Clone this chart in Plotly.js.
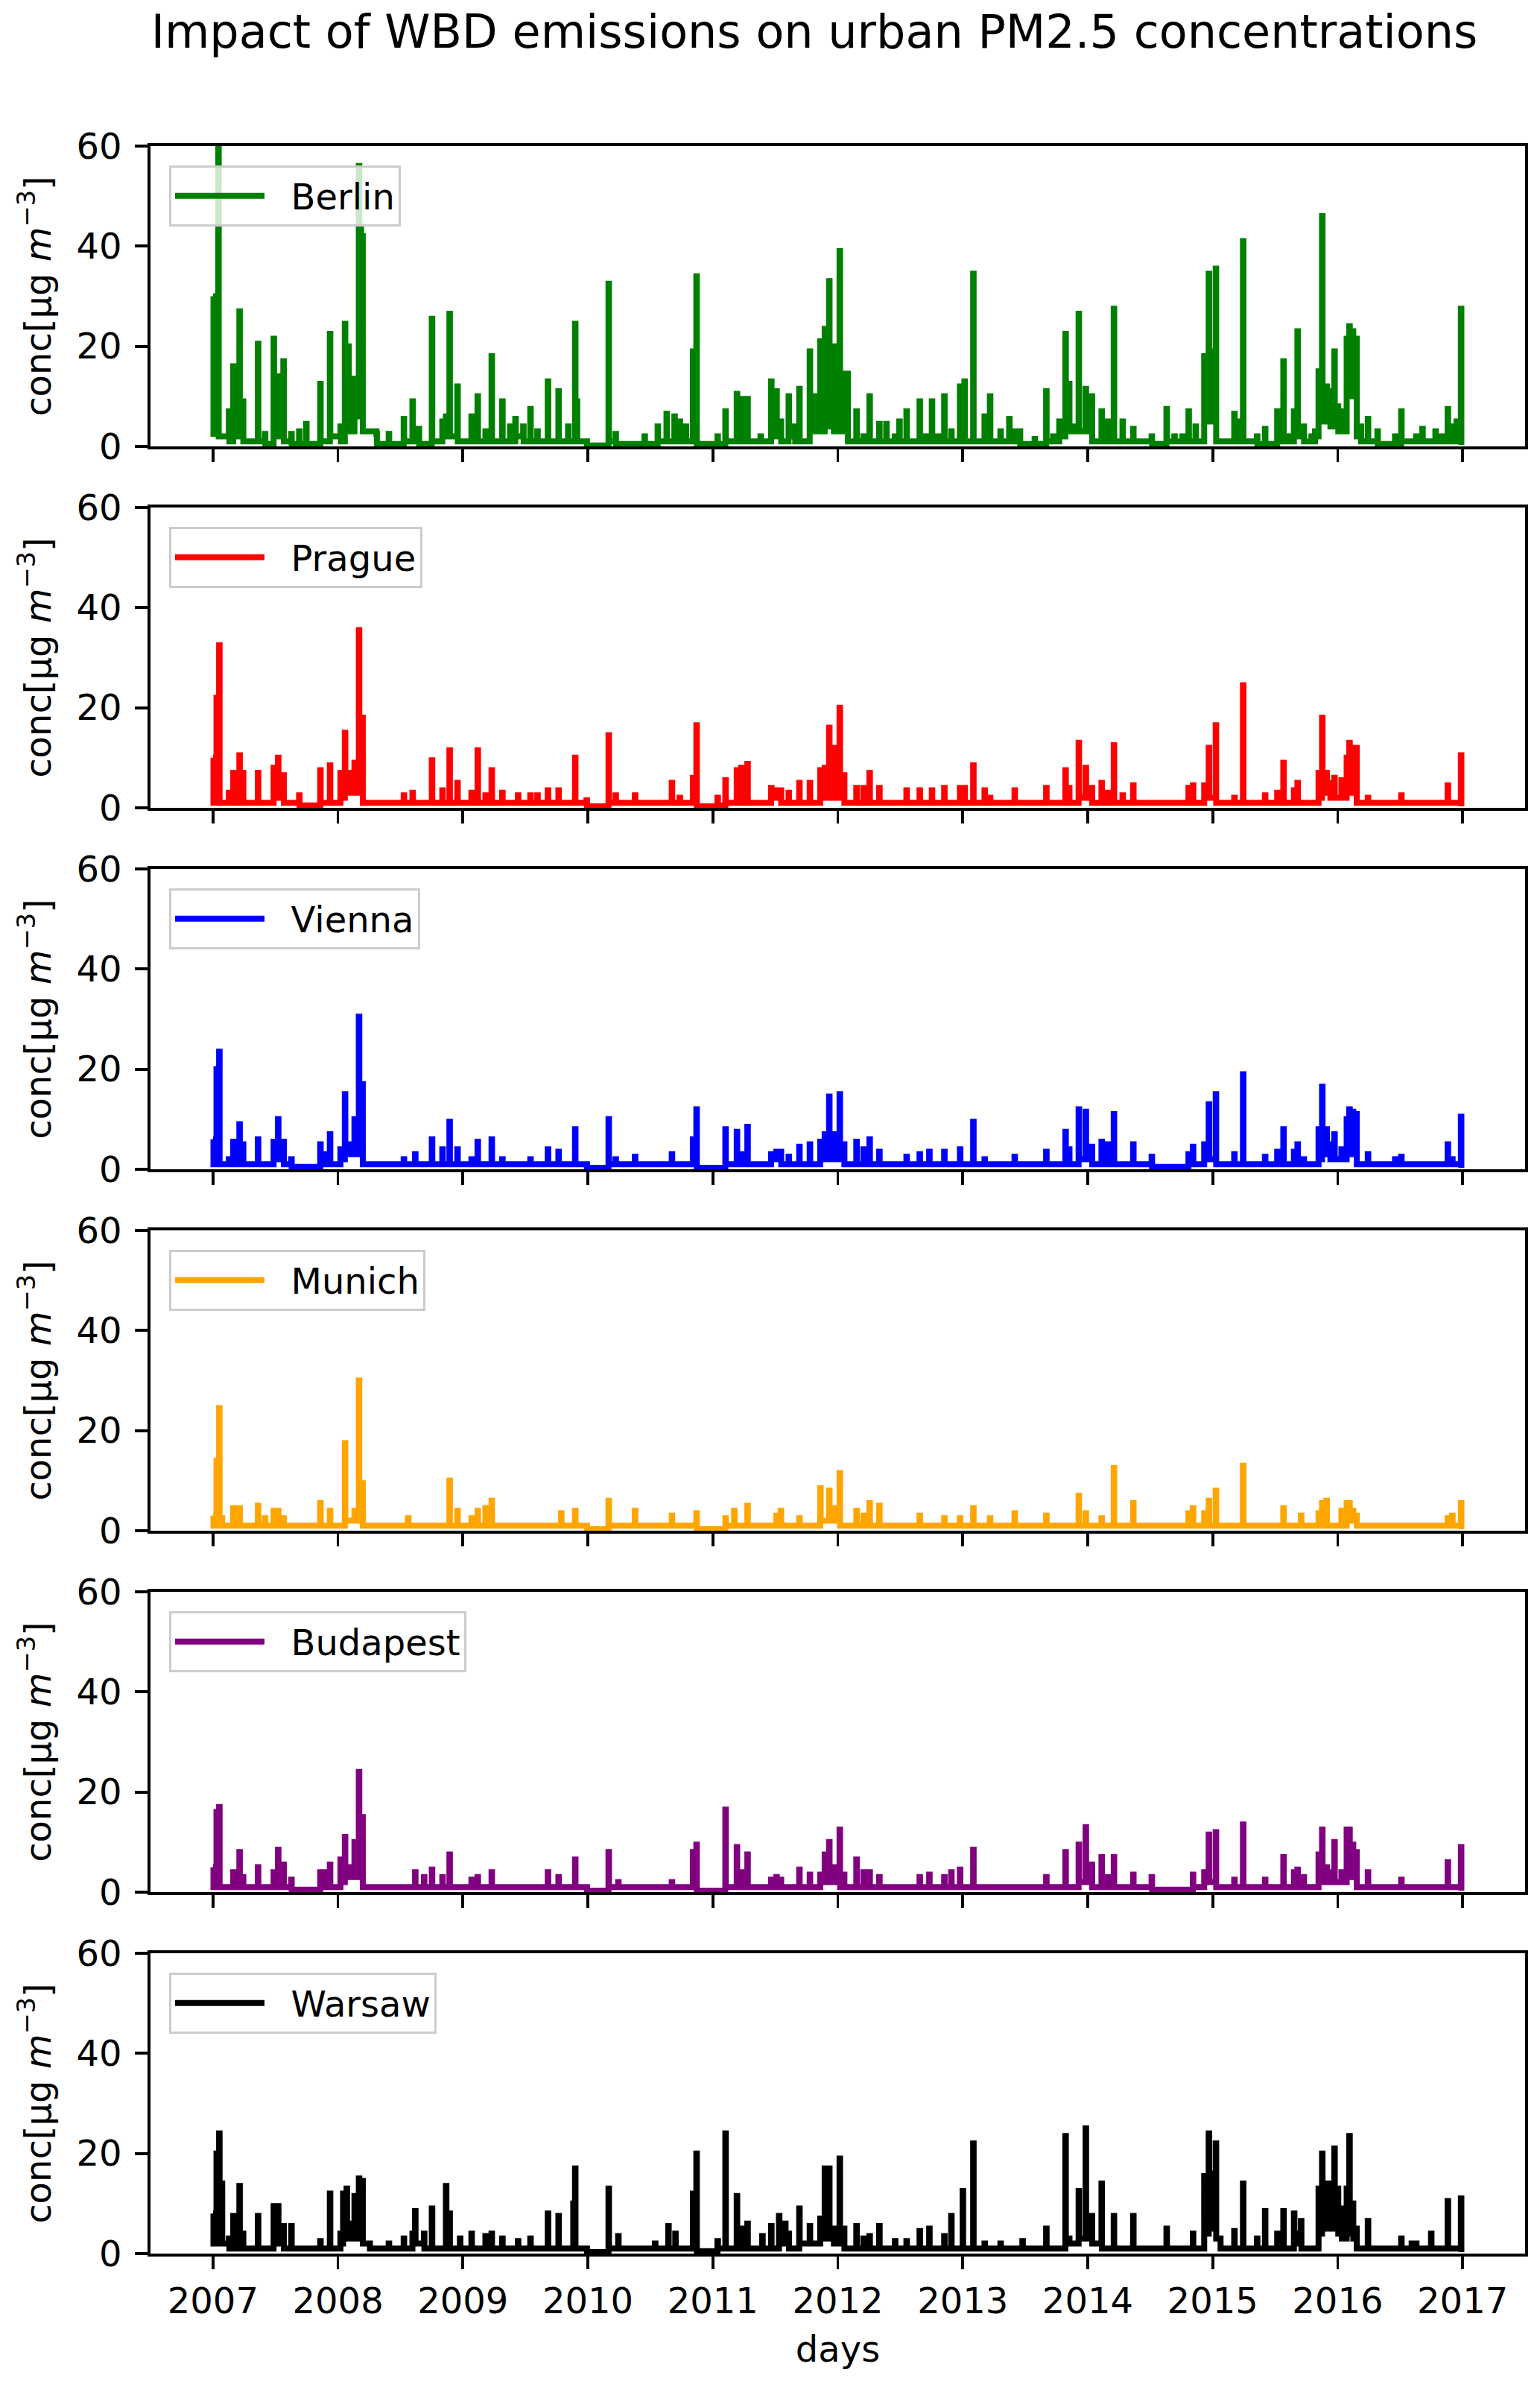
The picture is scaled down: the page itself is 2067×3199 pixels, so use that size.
<!DOCTYPE html>
<html>
<head>
<meta charset="utf-8">
<script src="https://cdn.plot.ly/plotly-3.0.1.min.js"></script>
<style>
  body { margin: 0; background: #fff; }
</style>
</head>
<body>
<div id="chart" style="width:2067px;height:3199px"></div>
<script>
// city names and line colours, top panel first
const cities = ['Berlin', 'Prague', 'Vienna', 'Munich', 'Budapest', 'Warsaw'];
const colors = ['green', 'red', 'blue', 'orange', 'purple', 'black'];
const yearTicks = [2007, 2008, 2009, 2010, 2011, 2012, 2013, 2014, 2015, 2016, 2017];
const concTicks = [0, 20, 40, 60];

// [decimal year, conc], each peak followed by the level it drops back to
const berlin = [
  [2007.000,30],[2007.004,2.5],[2007.042,62],[2007.046,2],[2007.127,7],[2007.131,1],
  [2007.162,16],[2007.166,3],[2007.176,15],[2007.180,2],[2007.211,27],[2007.215,2],
  [2007.239,9],[2007.243,1],[2007.359,20.5],[2007.363,1],[2007.415,2.5],[2007.419,0.5],
  [2007.485,21.5],[2007.489,3],[2007.520,14],[2007.524,2],[2007.563,17],[2007.567,1],
  [2007.626,2.5],[2007.630,0.5],[2007.689,3],[2007.693,0.5],[2007.745,4.5],[2007.749,0.5],
  [2007.858,12.5],[2007.862,1],[2007.935,22.5],[2007.939,2],[2008.020,4],[2008.024,1],
  [2008.055,24.5],[2008.059,3],[2008.083,20],[2008.087,3],[2008.132,13.5],[2008.136,6],
  [2008.167,56],[2008.171,42],[2008.181,44],[2008.185,40],[2008.195,42],[2008.199,3],
  [2008.308,2.5],[2008.312,0.5],[2008.406,2.5],[2008.410,0.5],[2008.526,5.5],[2008.530,1],
  [2008.596,9],[2008.600,1],[2008.646,3.5],[2008.650,0.5],[2008.751,25.5],[2008.755,1],
  [2008.835,5],[2008.839,2],[2008.864,6],[2008.868,3],[2008.892,26.5],[2008.896,2],
  [2008.955,12],[2008.959,1],[2009.068,6],[2009.072,1],[2009.117,10],[2009.121,1],
  [2009.180,3],[2009.184,1],[2009.229,18],[2009.233,1],[2009.314,9],[2009.318,1],
  [2009.377,4],[2009.381,1],[2009.419,5.5],[2009.423,2],[2009.482,4],[2009.486,1],
  [2009.539,7.5],[2009.543,1],[2009.595,3],[2009.599,1],[2009.679,13],[2009.683,1],
  [2009.764,11],[2009.768,1],[2009.841,4],[2009.845,1],[2009.897,24.5],[2009.901,4],
  [2009.911,9],[2009.915,1],[2009.989,1],[2009.993,0.2],[2010.165,32.5],[2010.169,1],
  [2010.221,2.5],[2010.225,0.5],[2010.453,2],[2010.457,0.5],[2010.558,4],[2010.562,1],
  [2010.629,6.5],[2010.633,1],[2010.692,6],[2010.696,1],[2010.734,5],[2010.738,1],
  [2010.783,4],[2010.787,1],[2010.840,19],[2010.844,3],[2010.868,34],[2010.872,0.5],
  [2011.037,2],[2011.041,0.5],[2011.100,7],[2011.104,1],[2011.191,10.5],[2011.195,2],
  [2011.226,9.5],[2011.230,1],[2011.276,9.5],[2011.280,1],[2011.381,2],[2011.385,1],
  [2011.466,13],[2011.470,3],[2011.508,11],[2011.512,2],[2011.543,5],[2011.547,1],
  [2011.606,10],[2011.610,2],[2011.655,4],[2011.659,1],[2011.691,11.5],[2011.695,1],
  [2011.775,19],[2011.779,4],[2011.810,10],[2011.814,3],[2011.859,21],[2011.863,3],
  [2011.895,23.5],[2011.899,5],[2011.930,33],[2011.934,4],[2011.965,20],[2011.969,3],
  [2012.014,39],[2012.018,3],[2012.049,14.5],[2012.053,5],[2012.077,14.5],[2012.081,1],
  [2012.148,7],[2012.152,1],[2012.204,2],[2012.208,1],[2012.253,10],[2012.257,1],
  [2012.331,4.5],[2012.335,1],[2012.387,4.5],[2012.391,1],[2012.457,2],[2012.461,1],
  [2012.492,5],[2012.496,1],[2012.549,7],[2012.553,1],[2012.654,9],[2012.658,1],
  [2012.703,2],[2012.707,1],[2012.752,9],[2012.756,1],[2012.802,2],[2012.806,1],
  [2012.851,10],[2012.855,1],[2012.907,3],[2012.911,1],[2012.977,12],[2012.981,3],
  [2013.013,13],[2013.017,1],[2013.083,34.5],[2013.087,1],[2013.174,6],[2013.178,1],
  [2013.217,10],[2013.221,1],[2013.301,3],[2013.305,1],[2013.371,5.5],[2013.375,2],
  [2013.414,3],[2013.418,1],[2013.456,3],[2013.460,0.5],[2013.575,1.5],[2013.579,0.5],
  [2013.667,11],[2013.671,1],[2013.723,2],[2013.727,1],[2013.772,5],[2013.776,2],
  [2013.821,22.5],[2013.825,3],[2013.850,12.5],[2013.854,3],[2013.899,4],[2013.903,3],
  [2013.927,26.5],[2013.931,3],[2013.983,11.5],[2013.987,3],[2014.032,10],[2014.036,1],
  [2014.110,7],[2014.114,1],[2014.159,5],[2014.163,1],[2014.208,27.5],[2014.212,1],
  [2014.278,5],[2014.282,1],[2014.363,3.5],[2014.367,1],[2014.511,2],[2014.515,0.5],
  [2014.630,7.5],[2014.634,1],[2014.693,2],[2014.697,1],[2014.757,2],[2014.761,1],
  [2014.806,7],[2014.810,1],[2014.862,4],[2014.866,1],[2014.932,18],[2014.936,5],
  [2014.968,34.5],[2014.972,5],[2014.989,19],[2014.993,5],[2015.024,35.5],[2015.028,1],
  [2015.172,6.5],[2015.176,1],[2015.207,5],[2015.211,1],[2015.242,41],[2015.246,1],
  [2015.354,2],[2015.358,0.5],[2015.418,3.5],[2015.422,0.5],[2015.516,7],[2015.520,1],
  [2015.565,17],[2015.569,1],[2015.615,2],[2015.619,1],[2015.650,7],[2015.654,2],
  [2015.678,23],[2015.682,2],[2015.727,4],[2015.731,1],[2015.790,2],[2015.794,1],
  [2015.819,3],[2015.823,2],[2015.847,15],[2015.851,5],[2015.875,46],[2015.879,5],
  [2015.910,12],[2015.914,5],[2015.938,11],[2015.942,4],[2015.973,19],[2015.977,4],
  [2016.001,8],[2016.005,3],[2016.030,7],[2016.034,3],[2016.072,21.5],[2016.076,10],
  [2016.093,24],[2016.097,10],[2016.121,23],[2016.125,10],[2016.149,21.5],[2016.153,2],
  [2016.184,4],[2016.188,1],[2016.241,5.5],[2016.245,1],[2016.318,3],[2016.322,0.5],
  [2016.459,2],[2016.463,0.5],[2016.508,7],[2016.512,1],[2016.627,2],[2016.631,1],
  [2016.677,3.5],[2016.681,1],[2016.782,3],[2016.786,1],[2016.831,2],[2016.835,1],
  [2016.880,7.5],[2016.884,2],[2016.916,4],[2016.920,1],[2016.951,5],[2016.955,2],
  [2016.986,27.5],[2016.990,0.3]
];

const prague = [
  [2007.000,10],[2007.004,1],[2007.028,22],[2007.032,3],[2007.049,32.5],[2007.053,1],
  [2007.127,3],[2007.131,1],[2007.162,7],[2007.166,1],[2007.211,10.5],[2007.215,1],
  [2007.239,7],[2007.243,1],[2007.359,7],[2007.363,1],[2007.485,8],[2007.489,2],
  [2007.520,10],[2007.524,2],[2007.563,6.5],[2007.567,1],[2007.689,2.5],[2007.693,0.5],
  [2007.858,7.5],[2007.862,1],[2007.935,8.5],[2007.939,1],[2008.020,7],[2008.024,2],
  [2008.055,15],[2008.059,3],[2008.083,7],[2008.087,3],[2008.132,9],[2008.136,3],
  [2008.167,35.5],[2008.171,4],[2008.195,18],[2008.199,1],[2008.526,2.5],[2008.530,1],
  [2008.596,3],[2008.600,1],[2008.751,9.5],[2008.755,1],[2008.835,3.5],[2008.839,1],
  [2008.892,11.5],[2008.896,1],[2008.955,5],[2008.959,1],[2009.068,3],[2009.072,1],
  [2009.117,11.5],[2009.121,1],[2009.180,2.5],[2009.184,1],[2009.229,7.5],[2009.233,1],
  [2009.314,3],[2009.318,1],[2009.440,2.5],[2009.444,1],[2009.539,2.5],[2009.543,1],
  [2009.595,2.5],[2009.599,1],[2009.679,3.5],[2009.683,1],[2009.764,3.5],[2009.768,1],
  [2009.897,10],[2009.901,1],[2009.989,1.5],[2009.993,0.3],[2010.165,14.5],[2010.169,1],
  [2010.221,2.5],[2010.225,1],[2010.376,2.5],[2010.380,1],[2010.671,5],[2010.675,1],
  [2010.734,2],[2010.738,1],[2010.840,6],[2010.844,1],[2010.868,16.5],[2010.872,0.3],
  [2011.037,2],[2011.041,0.5],[2011.100,5.5],[2011.104,1],[2011.191,7.5],[2011.195,1],
  [2011.226,8],[2011.230,1],[2011.276,8.8],[2011.280,1],[2011.466,4],[2011.470,2],
  [2011.508,3.5],[2011.512,2],[2011.543,3.5],[2011.547,1],[2011.606,3],[2011.610,1],
  [2011.691,5],[2011.695,1],[2011.775,5],[2011.779,1],[2011.859,7.5],[2011.863,2],
  [2011.895,8],[2011.899,2],[2011.930,16],[2011.934,2],[2011.965,12],[2011.969,2],
  [2012.014,20],[2012.018,2],[2012.049,6.5],[2012.053,1],[2012.148,4],[2012.152,1],
  [2012.204,4],[2012.208,1],[2012.253,7],[2012.257,1],[2012.331,4],[2012.335,1],
  [2012.549,3.5],[2012.553,1],[2012.654,3.5],[2012.658,1],[2012.752,3.5],[2012.756,1],
  [2012.851,4],[2012.855,1],[2012.977,4],[2012.981,1],[2013.013,4],[2013.017,1],
  [2013.083,8.5],[2013.087,1],[2013.174,3.5],[2013.178,1],[2013.217,2],[2013.221,1],
  [2013.414,3.5],[2013.418,1],[2013.667,4],[2013.671,1],[2013.821,7.5],[2013.825,1],
  [2013.850,4],[2013.854,1],[2013.927,13],[2013.931,2],[2013.983,8],[2013.987,2],
  [2014.032,4],[2014.036,1],[2014.110,5],[2014.114,1],[2014.159,3],[2014.163,1],
  [2014.208,12.5],[2014.212,1],[2014.278,2.5],[2014.282,1],[2014.363,4.5],[2014.367,1],
  [2014.806,4],[2014.810,1],[2014.841,4.5],[2014.845,1],[2014.932,4.5],[2014.936,2],
  [2014.968,12],[2014.972,2],[2015.024,16.5],[2015.028,1],[2015.172,2],[2015.176,1],
  [2015.242,24.5],[2015.246,1],[2015.418,2.5],[2015.422,1],[2015.516,3],[2015.520,1],
  [2015.565,9],[2015.569,1],[2015.650,3.5],[2015.654,1],[2015.678,5],[2015.682,1],
  [2015.847,7],[2015.851,2],[2015.875,18],[2015.879,3],[2015.910,7],[2015.914,3],
  [2015.938,5],[2015.942,2],[2015.973,6],[2015.977,2],[2016.030,5.5],[2016.034,2],
  [2016.072,10],[2016.076,3],[2016.093,13],[2016.097,3],[2016.121,12],[2016.125,3],
  [2016.149,12],[2016.153,1],[2016.241,2],[2016.245,1],[2016.508,2.5],[2016.512,1],
  [2016.880,4.5],[2016.884,1],[2016.986,10.5],[2016.990,0.3]
];

const vienna = [
  [2007.000,6],[2007.004,1],[2007.028,20],[2007.032,2],[2007.049,23.5],[2007.053,1],
  [2007.127,2],[2007.131,1],[2007.162,5.5],[2007.166,1],[2007.211,9],[2007.215,1],
  [2007.239,5],[2007.243,1],[2007.359,6],[2007.363,1],[2007.485,5.5],[2007.489,2],
  [2007.520,10],[2007.524,2],[2007.563,5.5],[2007.567,1],[2007.626,2],[2007.630,0.5],
  [2007.858,5],[2007.862,1],[2007.900,3],[2007.904,1],[2007.935,7],[2007.939,1],
  [2008.020,4],[2008.024,2],[2008.055,15],[2008.059,3],[2008.083,5],[2008.087,3],
  [2008.132,10],[2008.136,3],[2008.167,30.5],[2008.171,4],[2008.195,17],[2008.199,1],
  [2008.526,2],[2008.530,1],[2008.617,3],[2008.621,1],[2008.751,6],[2008.755,1],
  [2008.835,4],[2008.839,1],[2008.892,9.5],[2008.896,1],[2008.955,4],[2008.959,1],
  [2009.068,2],[2009.072,1],[2009.117,5.5],[2009.121,1],[2009.229,6],[2009.233,1],
  [2009.314,2],[2009.318,1],[2009.539,2],[2009.543,1],[2009.679,4],[2009.683,1],
  [2009.764,3.5],[2009.768,1],[2009.897,8],[2009.901,1],[2009.989,1],[2009.993,0.3],
  [2010.165,10],[2010.169,1],[2010.221,2],[2010.225,1],[2010.376,2.5],[2010.380,1],
  [2010.671,3],[2010.675,1],[2010.840,6],[2010.844,1],[2010.868,12],[2010.872,0.3],
  [2011.100,8],[2011.104,1],[2011.191,7.5],[2011.195,1],[2011.226,3],[2011.230,1],
  [2011.276,8.5],[2011.280,1],[2011.466,3],[2011.470,2],[2011.508,3.5],[2011.512,2],
  [2011.543,3.5],[2011.547,1],[2011.606,2.5],[2011.610,1],[2011.691,4.5],[2011.695,1],
  [2011.775,5],[2011.779,1],[2011.859,5.5],[2011.863,2],[2011.895,7],[2011.899,2],
  [2011.930,14.5],[2011.934,2],[2011.965,7],[2011.969,2],[2012.014,15],[2012.018,2],
  [2012.049,5],[2012.053,1],[2012.148,5.5],[2012.152,1],[2012.204,4],[2012.208,1],
  [2012.253,6],[2012.257,1],[2012.331,3.5],[2012.335,1],[2012.549,2.5],[2012.553,1],
  [2012.654,3],[2012.658,1],[2012.731,3.5],[2012.735,1],[2012.851,3.5],[2012.855,1],
  [2012.977,4],[2012.981,1],[2013.083,9.5],[2013.087,1],[2013.174,2],[2013.178,1],
  [2013.414,2.5],[2013.418,1],[2013.667,3.5],[2013.671,1],[2013.821,7.5],[2013.825,1],
  [2013.850,4],[2013.854,1],[2013.927,12],[2013.931,2],[2013.983,11.5],[2013.987,2],
  [2014.032,4.5],[2014.036,1],[2014.110,5.5],[2014.114,1],[2014.159,5],[2014.163,1],
  [2014.208,11],[2014.212,1],[2014.363,5],[2014.367,1],[2014.511,2.5],[2014.515,0.5],
  [2014.806,3],[2014.810,1],[2014.841,4.5],[2014.845,1],[2014.932,5],[2014.936,2],
  [2014.968,13],[2014.972,2],[2015.024,15],[2015.028,1],[2015.172,3],[2015.176,1],
  [2015.242,19],[2015.246,1],[2015.418,2.5],[2015.422,1],[2015.516,3.5],[2015.520,1],
  [2015.565,8],[2015.569,1],[2015.650,3.5],[2015.654,1],[2015.678,5],[2015.682,1],
  [2015.727,2],[2015.731,1],[2015.847,8],[2015.851,2],[2015.875,16.5],[2015.879,3],
  [2015.910,8],[2015.914,3],[2015.938,5],[2015.942,2],[2015.973,7],[2015.977,2],
  [2016.030,4],[2016.034,2],[2016.072,10],[2016.076,3],[2016.093,12],[2016.097,3],
  [2016.121,11.5],[2016.125,3],[2016.149,11],[2016.153,1],[2016.241,3],[2016.245,1],
  [2016.459,2],[2016.463,1],[2016.508,2.5],[2016.512,1],[2016.880,5],[2016.884,1],
  [2016.916,2],[2016.920,1],[2016.986,10.5],[2016.990,0.3]
];

const munich = [
  [2007.000,3],[2007.004,1],[2007.028,14],[2007.032,2],[2007.049,24.5],[2007.053,1],
  [2007.070,2.5],[2007.074,1],[2007.162,4.5],[2007.166,1],[2007.211,4.5],[2007.215,1],
  [2007.359,5],[2007.363,1],[2007.415,2.5],[2007.419,1],[2007.485,4],[2007.489,1],
  [2007.520,4],[2007.524,1],[2007.563,2.5],[2007.567,1],[2007.858,5.5],[2007.862,1],
  [2007.935,4],[2007.939,1],[2008.055,17.5],[2008.059,2],[2008.132,4],[2008.136,2],
  [2008.167,30],[2008.171,3],[2008.195,9.5],[2008.199,1],[2008.561,2.5],[2008.565,1],
  [2008.892,10],[2008.896,1],[2008.955,4],[2008.959,1],[2009.068,2.5],[2009.072,1],
  [2009.117,4],[2009.121,1],[2009.180,4.5],[2009.184,1],[2009.229,6],[2009.233,1],
  [2009.785,3.5],[2009.789,1],[2009.897,4],[2009.901,1],[2009.989,1],[2009.993,0.3],
  [2010.165,6],[2010.169,1],[2010.376,4],[2010.380,1],[2010.671,3],[2010.675,1],
  [2010.868,3.5],[2010.872,0.3],[2011.100,2.5],[2011.104,1],[2011.170,4],[2011.174,1],
  [2011.276,5],[2011.280,1],[2011.508,3],[2011.512,1],[2011.543,4],[2011.547,1],
  [2011.691,2.5],[2011.695,1],[2011.859,8.5],[2011.863,2],[2011.930,8],[2011.934,2],
  [2011.965,4.5],[2011.969,2],[2012.014,11.5],[2012.018,1],[2012.148,4],[2012.152,1],
  [2012.204,3],[2012.208,1],[2012.253,5.5],[2012.257,1],[2012.331,5],[2012.335,1],
  [2012.654,3],[2012.658,1],[2012.851,2.5],[2012.855,1],[2012.977,2.5],[2012.981,1],
  [2013.083,4.5],[2013.087,1],[2013.217,2.5],[2013.221,1],[2013.414,3.5],[2013.418,1],
  [2013.667,3],[2013.671,1],[2013.927,7],[2013.931,1],[2013.983,3.5],[2013.987,1],
  [2014.110,2.5],[2014.114,1],[2014.208,12.5],[2014.212,1],[2014.363,5.5],[2014.367,1],
  [2014.806,3.5],[2014.810,1],[2014.841,4.5],[2014.845,1],[2014.932,3.5],[2014.936,1],
  [2014.968,6],[2014.972,1],[2015.024,8],[2015.028,1],[2015.242,13],[2015.246,1],
  [2015.565,4.5],[2015.569,1],[2015.706,3],[2015.710,1],[2015.847,3.5],[2015.851,1],
  [2015.875,5.5],[2015.879,2],[2015.910,6],[2015.914,1],[2016.030,4],[2016.034,1],
  [2016.072,5.5],[2016.076,2],[2016.093,5.5],[2016.097,2],[2016.121,4],[2016.125,2],
  [2016.149,3],[2016.153,1],[2016.880,2.5],[2016.884,1],[2016.916,3],[2016.920,1],
  [2016.986,5.5],[2016.990,0.3]
];

const budapest = [
  [2007.000,5],[2007.004,1],[2007.028,16],[2007.032,3],[2007.049,17],[2007.053,1],
  [2007.162,4],[2007.166,1],[2007.211,8],[2007.215,1],[2007.239,3],[2007.243,1],
  [2007.359,5],[2007.363,1],[2007.485,4],[2007.489,1],[2007.520,8.5],[2007.524,1],
  [2007.563,5.5],[2007.567,1],[2007.626,2.5],[2007.630,0.5],[2007.858,4],[2007.862,1],
  [2007.900,4],[2007.904,1],[2007.935,5.5],[2007.939,1],[2008.020,6.5],[2008.024,2],
  [2008.055,11],[2008.059,3],[2008.083,5],[2008.087,3],[2008.132,10],[2008.136,3],
  [2008.167,24],[2008.171,4],[2008.195,15],[2008.199,1],[2008.617,4],[2008.621,1],
  [2008.688,3],[2008.692,1],[2008.751,4.5],[2008.755,1],[2008.835,3],[2008.839,1],
  [2008.892,7.5],[2008.896,1],[2009.068,2.5],[2009.072,1],[2009.117,3],[2009.121,1],
  [2009.229,4],[2009.233,1],[2009.679,4],[2009.683,1],[2009.764,3],[2009.768,1],
  [2009.897,6.5],[2009.901,1],[2009.989,1],[2009.993,0.3],[2010.165,8],[2010.169,1],
  [2010.242,2],[2010.246,1],[2010.671,2],[2010.675,1],[2010.840,8],[2010.844,1],
  [2010.868,9.5],[2010.872,0.3],[2011.100,16.5],[2011.104,1],[2011.191,9],[2011.195,1],
  [2011.226,4],[2011.230,1],[2011.276,7.5],[2011.280,1],[2011.466,2.5],[2011.470,1],
  [2011.508,3],[2011.512,1],[2011.543,2.5],[2011.547,1],[2011.691,4.5],[2011.695,1],
  [2011.775,3.5],[2011.779,1],[2011.859,3.5],[2011.863,2],[2011.895,7.5],[2011.899,2],
  [2011.930,10],[2011.934,2],[2011.965,5],[2011.969,2],[2012.014,12.5],[2012.018,1],
  [2012.049,3.5],[2012.053,1],[2012.148,6.5],[2012.152,1],[2012.204,4],[2012.208,1],
  [2012.253,4],[2012.257,1],[2012.331,3],[2012.335,1],[2012.654,3],[2012.658,1],
  [2012.731,3.5],[2012.735,1],[2012.851,3],[2012.855,1],[2012.907,4],[2012.911,1],
  [2012.977,4.5],[2012.981,1],[2013.083,8.5],[2013.087,1],[2013.667,3],[2013.671,1],
  [2013.821,8],[2013.825,1],[2013.927,9.5],[2013.931,2],[2013.983,13],[2013.987,2],
  [2014.032,5.5],[2014.036,1],[2014.110,7],[2014.114,1],[2014.159,3],[2014.163,1],
  [2014.208,7],[2014.212,1],[2014.363,3.5],[2014.367,1],[2014.511,3],[2014.515,0.5],
  [2014.841,3.5],[2014.845,1],[2014.932,4],[2014.936,2],[2014.968,11.5],[2014.972,2],
  [2015.024,12],[2015.028,1],[2015.172,2.5],[2015.176,1],[2015.242,13.5],[2015.246,1],
  [2015.418,2.5],[2015.422,1],[2015.565,7],[2015.569,1],[2015.650,4],[2015.654,1],
  [2015.678,4.5],[2015.682,1],[2015.727,3],[2015.731,1],[2015.847,7.5],[2015.851,2],
  [2015.875,12.5],[2015.879,2],[2015.910,5],[2015.914,2],[2015.938,4],[2015.942,2],
  [2015.973,10],[2015.977,2],[2016.030,4],[2016.034,2],[2016.072,12.5],[2016.076,3],
  [2016.093,12.5],[2016.097,3],[2016.121,9.5],[2016.125,3],[2016.149,8],[2016.153,1],
  [2016.241,4],[2016.245,1],[2016.508,2.5],[2016.512,1],[2016.880,6],[2016.884,1],
  [2016.986,9],[2016.990,0.3]
];

const warsaw = [
  [2007.000,8],[2007.004,2],[2007.028,20],[2007.032,3],[2007.049,24],[2007.053,3],
  [2007.070,14],[2007.074,2],[2007.127,3],[2007.131,1],[2007.162,7.5],[2007.166,1],
  [2007.211,13.5],[2007.215,1],[2007.239,4],[2007.243,1],[2007.359,7.5],[2007.363,1],
  [2007.485,9.5],[2007.489,2],[2007.520,9.5],[2007.524,2],[2007.563,5.5],[2007.567,1],
  [2007.626,5.5],[2007.630,1],[2007.858,2.5],[2007.862,1],[2007.935,12],[2007.939,1],
  [2008.020,4],[2008.024,2],[2008.041,12],[2008.045,3],[2008.069,13],[2008.073,3],
  [2008.104,6],[2008.108,3],[2008.132,11.5],[2008.136,3],[2008.167,15],[2008.171,4],
  [2008.195,14.5],[2008.199,2],[2008.252,2],[2008.256,1],[2008.406,2],[2008.410,1],
  [2008.526,3],[2008.530,1],[2008.596,4],[2008.600,2],[2008.617,8.5],[2008.621,2],
  [2008.688,4],[2008.692,1],[2008.751,9],[2008.755,1],[2008.864,13.5],[2008.868,2],
  [2008.892,8],[2008.896,1],[2008.976,3],[2008.980,1],[2009.068,4],[2009.072,1],
  [2009.180,3.5],[2009.184,1],[2009.229,4],[2009.233,1],[2009.314,3],[2009.318,1],
  [2009.440,2.5],[2009.444,1],[2009.539,3],[2009.543,1],[2009.679,8],[2009.683,1],
  [2009.764,7.5],[2009.768,1],[2009.883,10],[2009.887,3],[2009.897,17],[2009.901,1],
  [2009.989,1],[2009.993,0.3],[2010.165,13],[2010.169,1],[2010.242,3.5],[2010.246,1],
  [2010.537,2],[2010.541,1],[2010.643,5.5],[2010.647,1],[2010.699,4],[2010.703,1],
  [2010.840,12],[2010.844,2],[2010.868,20],[2010.872,0.5],[2011.037,2.5],[2011.041,1],
  [2011.100,24],[2011.104,1],[2011.191,11.5],[2011.195,2],[2011.226,5],[2011.230,1],
  [2011.276,6],[2011.280,1],[2011.395,3.5],[2011.399,1],[2011.466,5.5],[2011.470,1],
  [2011.529,7.5],[2011.533,2],[2011.578,6],[2011.582,2],[2011.606,4],[2011.610,1],
  [2011.691,9],[2011.695,2],[2011.775,5.5],[2011.779,2],[2011.859,7],[2011.863,3],
  [2011.895,17],[2011.899,4],[2011.930,17],[2011.934,3],[2011.965,5],[2011.969,2],
  [2012.014,19],[2012.018,2],[2012.049,5],[2012.053,1],[2012.148,5.5],[2012.152,1],
  [2012.204,3],[2012.208,1],[2012.253,3.5],[2012.257,1],[2012.331,5.5],[2012.335,1],
  [2012.457,2.5],[2012.461,1],[2012.549,2.5],[2012.553,1],[2012.654,4.5],[2012.658,1],
  [2012.731,5],[2012.735,1],[2012.851,3.5],[2012.855,1],[2012.907,7.5],[2012.911,1],
  [2012.999,12.5],[2013.003,1],[2013.083,22],[2013.087,1],[2013.174,2],[2013.178,1],
  [2013.301,2],[2013.305,1],[2013.477,2.5],[2013.481,1],[2013.667,5],[2013.671,1],
  [2013.821,23.5],[2013.825,2],[2013.850,3],[2013.854,2],[2013.927,12.5],[2013.931,3],
  [2013.983,25],[2013.987,3],[2014.032,7.5],[2014.036,2],[2014.110,14],[2014.114,1],
  [2014.208,7.5],[2014.212,1],[2014.363,7.5],[2014.367,1],[2014.630,5],[2014.634,1],
  [2014.841,4],[2014.845,1],[2014.932,15.5],[2014.936,4],[2014.968,24],[2014.972,5],
  [2014.996,16],[2015.000,5],[2015.024,22],[2015.028,3],[2015.059,3],[2015.063,1],
  [2015.172,4.5],[2015.176,1],[2015.242,14],[2015.246,1],[2015.354,3],[2015.358,1],
  [2015.418,8.5],[2015.422,1],[2015.516,4],[2015.520,1],[2015.565,8.5],[2015.569,1],
  [2015.650,8],[2015.654,2],[2015.678,4],[2015.682,2],[2015.706,6.5],[2015.710,1],
  [2015.847,13],[2015.851,4],[2015.875,20],[2015.879,5],[2015.910,14],[2015.914,5],
  [2015.938,14],[2015.942,5],[2015.973,21],[2015.977,5],[2016.001,13],[2016.005,4],
  [2016.030,9],[2016.034,3],[2016.072,13],[2016.076,4],[2016.093,23.5],[2016.097,4],
  [2016.121,10],[2016.125,3],[2016.149,5],[2016.153,1],[2016.241,6.5],[2016.245,1],
  [2016.508,3],[2016.512,1],[2016.592,2],[2016.596,1],[2016.627,2],[2016.631,1],
  [2016.747,4],[2016.751,1],[2016.880,10.5],[2016.884,1],[2016.986,11],[2016.990,0.3]
];

const series = [berlin, prague, vienna, munich, budapest, warsaw];

// page geometry (pixels)
const W = 2067, H = 3199;
const mL = 202, mR = 20, mT = 196, mB = 175;
const plotW = W - mL - mR;
const plotH = H - mT - mB;
const panelH = 403, panelStep = 485;

const FONT = 'DejaVu Sans, sans-serif';
const ylabel = 'conc[μg <i>m</i><sup>−3</sup>]';
const NBSP = '\u00a0\u00a0';   // gap between legend line sample and the label

const traces = [];
const layout = {
  width: W,
  height: H,
  margin: {l: mL, r: mR, t: mT, b: mB},
  paper_bgcolor: 'white',
  plot_bgcolor: 'white',
  font: {family: FONT, size: 48, color: 'black'},
  showlegend: true,
  title: {
    text: 'Impact of WBD emissions on urban PM2.5 concentrations',
    font: {family: FONT, size: 62, color: 'black'},
    xref: 'container', x: 1093 / W, xanchor: 'center',
    yref: 'container', y: 1 - 42 / H, yanchor: 'middle'
  }
};

const axisBase = {
  showline: true,
  mirror: true,
  linecolor: 'black',
  linewidth: 3.8,
  ticks: 'outside',
  ticklen: 17,
  tickwidth: 3.8,
  tickcolor: 'black',
  showgrid: false,
  zeroline: false,
  tickfont: {family: FONT, size: 48, color: 'black'}
};

cities.forEach((city, i) => {
  const sfx = i === 0 ? '' : String(i + 1);
  const top = 1 - (panelStep * i) / plotH;
  const bottom = 1 - (panelStep * i + panelH) / plotH;
  const last = i === cities.length - 1;

  traces.push({
    type: 'scatter',
    mode: 'lines',
    name: NBSP + city,
    x: series[i].map(p => p[0]),
    y: series[i].map(p => p[1]),
    xaxis: 'x' + sfx,
    yaxis: 'y' + sfx,
    legend: 'legend' + sfx,
    line: {color: colors[i], width: 8, shape: 'hv', simplify: false},
    hoverinfo: 'skip'
  });

  const xa = Object.assign({}, axisBase, {
    domain: [0, 1],
    anchor: 'y' + sfx,
    range: [2006.5, 2017.5],
    tickvals: yearTicks,
    ticktext: yearTicks.map(String),
    showticklabels: last,
    ticklabelstandoff: 2
  });
  if (last) xa.title = {text: 'days', font: {family: FONT, size: 48}, standoff: 22};
  layout['xaxis' + sfx] = xa;

  layout['yaxis' + sfx] = Object.assign({}, axisBase, {
    domain: [bottom, top],
    anchor: 'x' + sfx,
    range: [0, 60],
    tickvals: concTicks,
    ticklabelstandoff: 8,
    title: {text: ylabel, font: {family: FONT, size: 48}, standoff: 20}
  });

  layout['legend' + sfx] = {
    x: 25 / plotW,
    xanchor: 'left',
    y: 1 - (panelStep * i + 26) / plotH,
    yanchor: 'top',
    bgcolor: 'rgba(255,255,255,0.8)',
    bordercolor: '#cccccc',
    borderwidth: 3,
    itemwidth: 120,
    font: {family: FONT, size: 48, color: 'black'}
  };
});

Plotly.newPlot('chart', traces, layout, {displayModeBar: false, staticPlot: true});
</script>
</body>
</html>
